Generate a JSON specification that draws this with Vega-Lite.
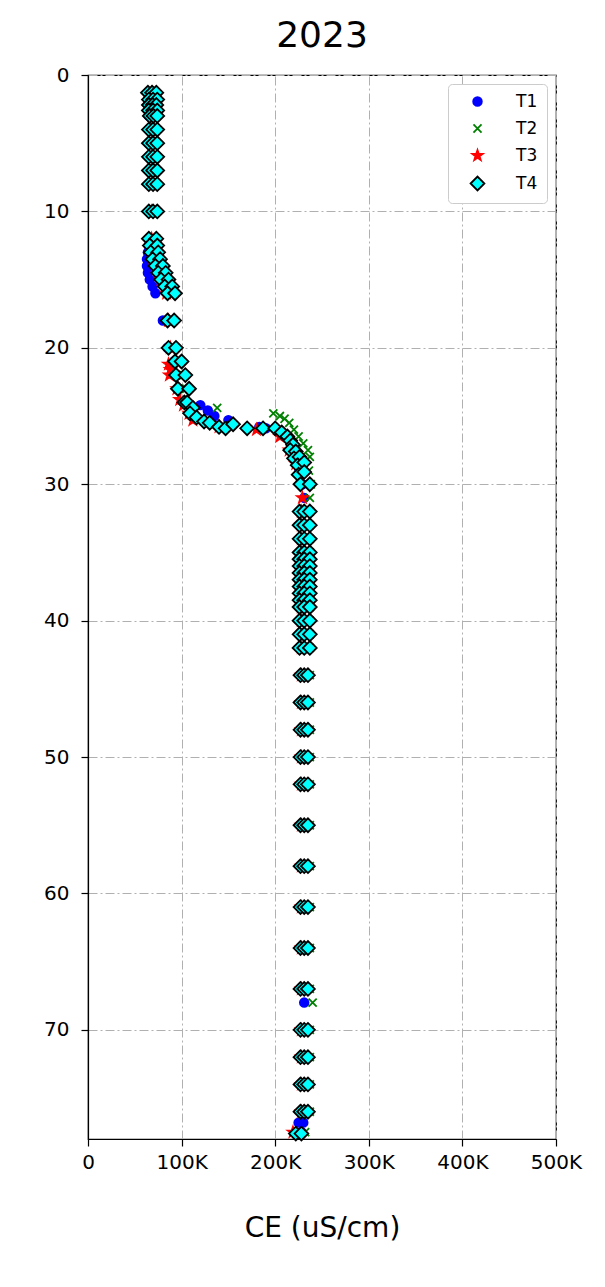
{
  "$schema": "https://vega.github.io/schema/vega-lite/v6.json",
  "autosize": {"type": "none"},
  "padding": {"left": 88, "top": 75, "right": 49, "bottom": 148},
  "width": 468,
  "height": 1064,
  "background": "white",
  "title": {"text": "2023", "fontSize": 36, "font": "DejaVu Sans", "fontWeight": "normal", "color": "black", "offset": 10},
  "config": {
    "font": "DejaVu Sans",
    "view": {"stroke": "black", "strokeWidth": 1.2},
    "axis": {"labelFontSize": 20, "labelColor": "black", "labelFont": "DejaVu Sans", "tickColor": "black", "domainColor": "black", "tickSize": 7, "tickWidth": 1.2, "domainWidth": 1.2, "gridColor": "#b0b0b0", "gridDash": [9, 3, 2, 3], "gridWidth": 1, "titleColor": "black", "titleFontWeight": "normal", "titleFontSize": 28, "titleFont": "DejaVu Sans"},
    "legend": {"title": null, "orient": "top-right", "offset": 9, "labelFontSize": 17, "labelColor": "black", "strokeColor": "#cccccc", "fillColor": "white", "padding": 9, "cornerRadius": 4, "rowPadding": 9, "labelOffset": 30, "symbolOffset": 12, "symbolStrokeWidth": 1.8}
  },
  "data": {"values": [
    {"s":"T1","ce":64000,"d":1.3},{"s":"T1","ce":64000,"d":1.8},{"s":"T1","ce":65000,"d":2.2},{"s":"T1","ce":65000,"d":2.6},{"s":"T1","ce":65000,"d":3},{"s":"T1","ce":65000,"d":4},{"s":"T1","ce":65000,"d":5},{"s":"T1","ce":65000,"d":6},{"s":"T1","ce":65000,"d":7},{"s":"T1","ce":65000,"d":8},{"s":"T1","ce":65000,"d":10},{"s":"T1","ce":65000,"d":12},{"s":"T1","ce":65000,"d":12.5},{"s":"T1","ce":64000,"d":13},{"s":"T1","ce":63000,"d":13.5},{"s":"T1","ce":63000,"d":14},{"s":"T1","ce":64000,"d":14.5},{"s":"T1","ce":66000,"d":15},{"s":"T1","ce":69000,"d":15.5},{"s":"T1","ce":72000,"d":16},{"s":"T1","ce":80000,"d":18},{"s":"T1","ce":85000,"d":20},{"s":"T1","ce":92000,"d":21},{"s":"T1","ce":95000,"d":22},{"s":"T1","ce":97000,"d":23},{"s":"T1","ce":120000,"d":24.2},{"s":"T1","ce":128000,"d":24.6},{"s":"T1","ce":135000,"d":25},{"s":"T1","ce":150000,"d":25.3},{"s":"T1","ce":183000,"d":25.8},{"s":"T1","ce":190000,"d":25.9},{"s":"T1","ce":210000,"d":26.3},{"s":"T1","ce":218000,"d":27},{"s":"T1","ce":222000,"d":28},{"s":"T1","ce":226000,"d":29},{"s":"T1","ce":229000,"d":30},{"s":"T1","ce":231000,"d":31},{"s":"T1","ce":230000,"d":32},{"s":"T1","ce":230000,"d":33},{"s":"T1","ce":230000,"d":34},{"s":"T1","ce":230000,"d":35},{"s":"T1","ce":230000,"d":36},{"s":"T1","ce":230000,"d":37},{"s":"T1","ce":230000,"d":38},{"s":"T1","ce":230000,"d":39},{"s":"T1","ce":230000,"d":40},{"s":"T1","ce":230000,"d":41},{"s":"T1","ce":230000,"d":42},{"s":"T1","ce":230000,"d":44},{"s":"T1","ce":230000,"d":46},{"s":"T1","ce":230000,"d":48},{"s":"T1","ce":230000,"d":50},{"s":"T1","ce":230000,"d":52},{"s":"T1","ce":230000,"d":55},{"s":"T1","ce":230000,"d":58},{"s":"T1","ce":230000,"d":61},{"s":"T1","ce":230000,"d":64},{"s":"T1","ce":230000,"d":67},{"s":"T1","ce":231000,"d":68},{"s":"T1","ce":230000,"d":70},{"s":"T1","ce":230000,"d":72},{"s":"T1","ce":230000,"d":74},{"s":"T1","ce":230000,"d":76},{"s":"T1","ce":225000,"d":76.8},{"s":"T1","ce":230000,"d":76.8},{"s":"T1","ce":228000,"d":77.5},
    {"s":"T2","ce":72000,"d":1.3},{"s":"T2","ce":72000,"d":2.2},{"s":"T2","ce":73000,"d":3},{"s":"T2","ce":73000,"d":4},{"s":"T2","ce":73000,"d":5},{"s":"T2","ce":73000,"d":6},{"s":"T2","ce":73000,"d":7},{"s":"T2","ce":73000,"d":8},{"s":"T2","ce":73000,"d":10},{"s":"T2","ce":73000,"d":12},{"s":"T2","ce":74000,"d":13},{"s":"T2","ce":76000,"d":14},{"s":"T2","ce":82000,"d":15},{"s":"T2","ce":88000,"d":16},{"s":"T2","ce":90000,"d":18},{"s":"T2","ce":92000,"d":20},{"s":"T2","ce":98000,"d":21},{"s":"T2","ce":102000,"d":22},{"s":"T2","ce":105000,"d":23},{"s":"T2","ce":138000,"d":24.4},{"s":"T2","ce":198000,"d":24.8},{"s":"T2","ce":205000,"d":25},{"s":"T2","ce":210000,"d":25.2},{"s":"T2","ce":215000,"d":25.5},{"s":"T2","ce":220000,"d":26},{"s":"T2","ce":225000,"d":26.5},{"s":"T2","ce":230000,"d":27},{"s":"T2","ce":235000,"d":27.5},{"s":"T2","ce":237000,"d":28},{"s":"T2","ce":236000,"d":29},{"s":"T2","ce":238000,"d":30},{"s":"T2","ce":237000,"d":31},{"s":"T2","ce":237000,"d":32},{"s":"T2","ce":237000,"d":33},{"s":"T2","ce":237000,"d":34},{"s":"T2","ce":237000,"d":35},{"s":"T2","ce":237000,"d":36},{"s":"T2","ce":237000,"d":37},{"s":"T2","ce":237000,"d":38},{"s":"T2","ce":237000,"d":39},{"s":"T2","ce":237000,"d":40},{"s":"T2","ce":237000,"d":41},{"s":"T2","ce":237000,"d":42},{"s":"T2","ce":237000,"d":44},{"s":"T2","ce":237000,"d":46},{"s":"T2","ce":237000,"d":48},{"s":"T2","ce":237000,"d":50},{"s":"T2","ce":237000,"d":52},{"s":"T2","ce":237000,"d":55},{"s":"T2","ce":237000,"d":58},{"s":"T2","ce":237000,"d":61},{"s":"T2","ce":237000,"d":64},{"s":"T2","ce":237000,"d":67},{"s":"T2","ce":240000,"d":68},{"s":"T2","ce":237000,"d":70},{"s":"T2","ce":237000,"d":72},{"s":"T2","ce":237000,"d":74},{"s":"T2","ce":237000,"d":76},{"s":"T2","ce":232000,"d":77.5},
    {"s":"T3","ce":68000,"d":1.3},{"s":"T3","ce":68000,"d":2.2},{"s":"T3","ce":68000,"d":3},{"s":"T3","ce":68000,"d":4},{"s":"T3","ce":68000,"d":5},{"s":"T3","ce":68000,"d":6},{"s":"T3","ce":68000,"d":7},{"s":"T3","ce":68000,"d":8},{"s":"T3","ce":68000,"d":10},{"s":"T3","ce":68000,"d":12},{"s":"T3","ce":69000,"d":13},{"s":"T3","ce":72000,"d":14},{"s":"T3","ce":78000,"d":15},{"s":"T3","ce":84000,"d":16},{"s":"T3","ce":86000,"d":18},{"s":"T3","ce":88000,"d":20},{"s":"T3","ce":86000,"d":21.2},{"s":"T3","ce":88000,"d":21.6},{"s":"T3","ce":87000,"d":22},{"s":"T3","ce":95000,"d":23},{"s":"T3","ce":98000,"d":23.8},{"s":"T3","ce":102000,"d":24.2},{"s":"T3","ce":108000,"d":24.8},{"s":"T3","ce":112000,"d":25.3},{"s":"T3","ce":140000,"d":25.8},{"s":"T3","ce":180000,"d":26},{"s":"T3","ce":205000,"d":26.5},{"s":"T3","ce":215000,"d":27.5},{"s":"T3","ce":222000,"d":28.5},{"s":"T3","ce":226000,"d":29.5},{"s":"T3","ce":229000,"d":31},{"s":"T3","ce":228000,"d":32},{"s":"T3","ce":228000,"d":33},{"s":"T3","ce":228000,"d":34},{"s":"T3","ce":228000,"d":35},{"s":"T3","ce":228000,"d":36},{"s":"T3","ce":228000,"d":37},{"s":"T3","ce":228000,"d":38},{"s":"T3","ce":228000,"d":39},{"s":"T3","ce":228000,"d":40},{"s":"T3","ce":228000,"d":42},{"s":"T3","ce":228000,"d":44},{"s":"T3","ce":228000,"d":46},{"s":"T3","ce":228000,"d":48},{"s":"T3","ce":228000,"d":50},{"s":"T3","ce":228000,"d":52},{"s":"T3","ce":228000,"d":55},{"s":"T3","ce":228000,"d":58},{"s":"T3","ce":228000,"d":61},{"s":"T3","ce":228000,"d":64},{"s":"T3","ce":228000,"d":67},{"s":"T3","ce":228000,"d":70},{"s":"T3","ce":228000,"d":72},{"s":"T3","ce":228000,"d":74},{"s":"T3","ce":228000,"d":76},{"s":"T3","ce":219000,"d":77.5},
    {"s":"T4","ce":64000,"d":1.3},{"s":"T4","ce":68500,"d":1.3},{"s":"T4","ce":73000,"d":1.3},{"s":"T4","ce":65000,"d":1.8},{"s":"T4","ce":69500,"d":1.8},{"s":"T4","ce":74000,"d":1.8},{"s":"T4","ce":65000,"d":2.2},{"s":"T4","ce":69000,"d":2.2},{"s":"T4","ce":73000,"d":2.2},{"s":"T4","ce":65000,"d":2.6},{"s":"T4","ce":69500,"d":2.6},{"s":"T4","ce":74000,"d":2.6},{"s":"T4","ce":66000,"d":3},{"s":"T4","ce":70000,"d":3},{"s":"T4","ce":74000,"d":3},{"s":"T4","ce":65000,"d":4},{"s":"T4","ce":69500,"d":4},{"s":"T4","ce":74000,"d":4},{"s":"T4","ce":65000,"d":5},{"s":"T4","ce":69500,"d":5},{"s":"T4","ce":74000,"d":5},{"s":"T4","ce":65000,"d":6},{"s":"T4","ce":69500,"d":6},{"s":"T4","ce":74000,"d":6},{"s":"T4","ce":65000,"d":7},{"s":"T4","ce":69500,"d":7},{"s":"T4","ce":74000,"d":7},{"s":"T4","ce":65000,"d":8},{"s":"T4","ce":69500,"d":8},{"s":"T4","ce":74000,"d":8},{"s":"T4","ce":65000,"d":10},{"s":"T4","ce":69500,"d":10},{"s":"T4","ce":74000,"d":10},
    {"s":"T4","ce":65000,"d":12},{"s":"T4","ce":73000,"d":12},{"s":"T4","ce":66000,"d":12.5},{"s":"T4","ce":74000,"d":12.5},{"s":"T4","ce":67000,"d":13},{"s":"T4","ce":75000,"d":13},{"s":"T4","ce":69000,"d":13.5},{"s":"T4","ce":77000,"d":13.5},{"s":"T4","ce":72000,"d":14},{"s":"T4","ce":80000,"d":14},{"s":"T4","ce":75000,"d":14.5},{"s":"T4","ce":83000,"d":14.5},{"s":"T4","ce":78000,"d":15},{"s":"T4","ce":86000,"d":15},{"s":"T4","ce":82000,"d":15.5},{"s":"T4","ce":90000,"d":15.5},{"s":"T4","ce":85000,"d":16},{"s":"T4","ce":93000,"d":16},
    {"s":"T4","ce":85000,"d":18},{"s":"T4","ce":92000,"d":18},{"s":"T4","ce":86000,"d":20},{"s":"T4","ce":94000,"d":20},{"s":"T4","ce":93000,"d":21},{"s":"T4","ce":100000,"d":21},{"s":"T4","ce":94000,"d":22},{"s":"T4","ce":104000,"d":22},{"s":"T4","ce":96000,"d":23},{"s":"T4","ce":108000,"d":23},{"s":"T4","ce":103000,"d":24},{"s":"T4","ce":106000,"d":24},{"s":"T4","ce":112000,"d":24.4},{"s":"T4","ce":109000,"d":24.8},{"s":"T4","ce":116000,"d":25.1},{"s":"T4","ce":124000,"d":25.4},{"s":"T4","ce":130000,"d":25.5},{"s":"T4","ce":140000,"d":25.8},{"s":"T4","ce":147000,"d":25.9},{"s":"T4","ce":155000,"d":25.6},{"s":"T4","ce":170000,"d":25.9},{"s":"T4","ce":187000,"d":25.9},{"s":"T4","ce":200000,"d":25.9},{"s":"T4","ce":207000,"d":26.2},{"s":"T4","ce":213000,"d":26.5},{"s":"T4","ce":216000,"d":26.8},{"s":"T4","ce":219000,"d":27.1},{"s":"T4","ce":216000,"d":27.5},{"s":"T4","ce":222000,"d":27.6},{"s":"T4","ce":220000,"d":28.1},{"s":"T4","ce":226000,"d":28},{"s":"T4","ce":224000,"d":28.6},{"s":"T4","ce":231000,"d":28.4},{"s":"T4","ce":225000,"d":29.3},{"s":"T4","ce":231000,"d":29.1},{"s":"T4","ce":227000,"d":30},{"s":"T4","ce":237000,"d":30},
    {"s":"T4","ce":226000,"d":32},{"s":"T4","ce":231000,"d":32},{"s":"T4","ce":237000,"d":32},{"s":"T4","ce":226000,"d":33},{"s":"T4","ce":231000,"d":33},{"s":"T4","ce":237000,"d":33},{"s":"T4","ce":226000,"d":34},{"s":"T4","ce":231000,"d":34},{"s":"T4","ce":237000,"d":34},{"s":"T4","ce":226000,"d":35},{"s":"T4","ce":231000,"d":35},{"s":"T4","ce":237000,"d":35},{"s":"T4","ce":226000,"d":35.5},{"s":"T4","ce":231000,"d":35.5},{"s":"T4","ce":237000,"d":35.5},{"s":"T4","ce":226000,"d":36},{"s":"T4","ce":231000,"d":36},{"s":"T4","ce":237000,"d":36},{"s":"T4","ce":226000,"d":36.5},{"s":"T4","ce":231000,"d":36.5},{"s":"T4","ce":237000,"d":36.5},{"s":"T4","ce":226000,"d":37},{"s":"T4","ce":231000,"d":37},{"s":"T4","ce":237000,"d":37},{"s":"T4","ce":226000,"d":37.5},{"s":"T4","ce":231000,"d":37.5},{"s":"T4","ce":237000,"d":37.5},{"s":"T4","ce":226000,"d":38},{"s":"T4","ce":231000,"d":38},{"s":"T4","ce":237000,"d":38},{"s":"T4","ce":226000,"d":38.5},{"s":"T4","ce":231000,"d":38.5},{"s":"T4","ce":237000,"d":38.5},{"s":"T4","ce":226000,"d":39},{"s":"T4","ce":231000,"d":39},{"s":"T4","ce":237000,"d":39},{"s":"T4","ce":226000,"d":40},{"s":"T4","ce":231000,"d":40},{"s":"T4","ce":237000,"d":40},{"s":"T4","ce":226000,"d":41},{"s":"T4","ce":231000,"d":41},{"s":"T4","ce":237000,"d":41},{"s":"T4","ce":226000,"d":42},{"s":"T4","ce":231000,"d":42},{"s":"T4","ce":237000,"d":42},
    {"s":"T4","ce":227000,"d":44},{"s":"T4","ce":231000,"d":44},{"s":"T4","ce":235000,"d":44},{"s":"T4","ce":227000,"d":46},{"s":"T4","ce":231000,"d":46},{"s":"T4","ce":235000,"d":46},{"s":"T4","ce":227000,"d":48},{"s":"T4","ce":231000,"d":48},{"s":"T4","ce":235000,"d":48},{"s":"T4","ce":227000,"d":50},{"s":"T4","ce":231000,"d":50},{"s":"T4","ce":235000,"d":50},{"s":"T4","ce":227000,"d":52},{"s":"T4","ce":231000,"d":52},{"s":"T4","ce":235000,"d":52},{"s":"T4","ce":227000,"d":55},{"s":"T4","ce":231000,"d":55},{"s":"T4","ce":235000,"d":55},{"s":"T4","ce":227000,"d":58},{"s":"T4","ce":231000,"d":58},{"s":"T4","ce":235000,"d":58},{"s":"T4","ce":227000,"d":61},{"s":"T4","ce":231000,"d":61},{"s":"T4","ce":235000,"d":61},{"s":"T4","ce":227000,"d":64},{"s":"T4","ce":231000,"d":64},{"s":"T4","ce":235000,"d":64},{"s":"T4","ce":227000,"d":67},{"s":"T4","ce":231000,"d":67},{"s":"T4","ce":235000,"d":67},{"s":"T4","ce":227000,"d":70},{"s":"T4","ce":231000,"d":70},{"s":"T4","ce":235000,"d":70},{"s":"T4","ce":227000,"d":72},{"s":"T4","ce":231000,"d":72},{"s":"T4","ce":235000,"d":72},{"s":"T4","ce":227000,"d":74},{"s":"T4","ce":231000,"d":74},{"s":"T4","ce":235000,"d":74},{"s":"T4","ce":227000,"d":76},{"s":"T4","ce":231000,"d":76},{"s":"T4","ce":235000,"d":76},{"s":"T4","ce":222000,"d":77.6},{"s":"T4","ce":228000,"d":77.6}
  ]},
  "mark": {"type": "point", "strokeWidth": 1.8, "opacity": 1, "clip": false},
  "encoding": {
    "x": {"field": "ce", "type": "quantitative", "scale": {"domain": [0, 500000], "nice": false, "zero": false},
      "axis": {"values": [0, 100000, 200000, 300000, 400000, 500000], "labelExpr": "datum.value == 0 ? '0' : (datum.value / 1000) + 'K'", "title": "CE (uS/cm)", "labelPadding": 6, "titlePadding": 42, "labelFlush": false}},
    "y": {"field": "d", "type": "quantitative", "scale": {"domain": [0, 78], "reverse": true, "nice": false, "zero": false},
      "axis": {"values": [0, 10, 20, 30, 40, 50, 60, 70], "title": null, "labelPadding": 12}},
    "shape": {"field": "s", "type": "nominal", "scale": {"domain": ["T1", "T2", "T3", "T4"], "range": ["circle", "M-1,-1L1,1M-1,1L1,-1", "M0,-1L0.235,-0.324L0.951,-0.309L0.38,0.124L0.588,0.809L0,0.4L-0.588,0.809L-0.38,0.124L-0.951,-0.309L-0.235,-0.324Z", "diamond"]}},
    "fill": {"field": "s", "type": "nominal", "scale": {"domain": ["T1", "T2", "T3", "T4"], "range": ["#0000ff", "transparent", "#ff0000", "#00ffff"]}},
    "stroke": {"field": "s", "type": "nominal", "scale": {"domain": ["T1", "T2", "T3", "T4"], "range": ["#0000ff", "#008000", "#ff0000", "#000000"]}},
    "size": {"field": "s", "type": "nominal", "scale": {"type": "ordinal", "domain": ["T1", "T2", "T3", "T4"], "range": [75, 65, 120, 190]}}
  }
}
